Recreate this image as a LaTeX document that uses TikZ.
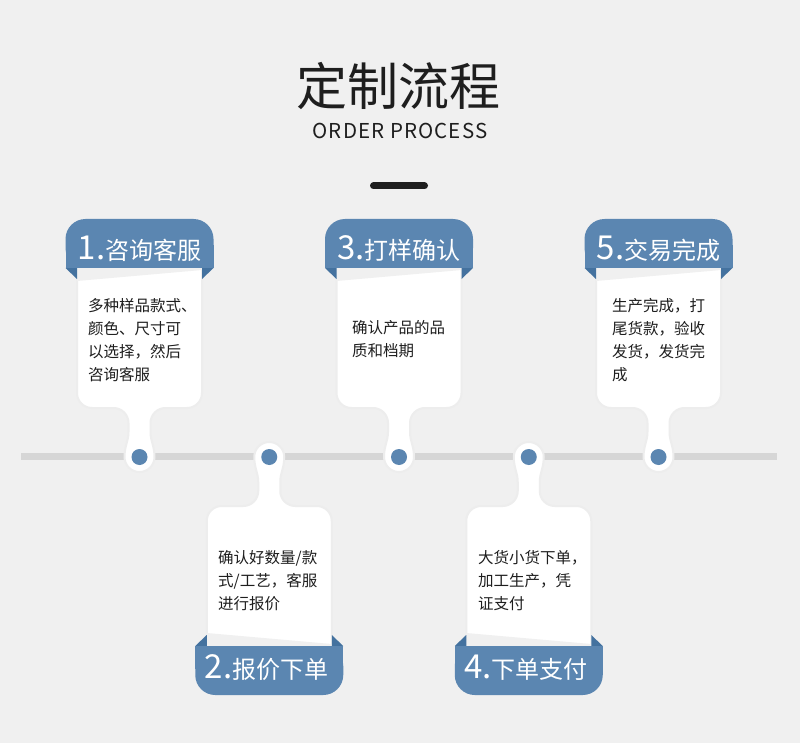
\documentclass[tikz,border=0pt]{standalone}
\usepackage{fontspec}
\setmainfont{Noto Sans CJK SC}
\newfontfamily\subfont[LetterSpace=5.5]{Noto Sans CJK SC}
\definecolor{bg}{HTML}{F0F0F0}
\definecolor{tabblue}{HTML}{5B86B1}
\definecolor{folddark}{HTML}{44729F}
\definecolor{linegray}{HTML}{D6D6D6}
\definecolor{ink}{HTML}{1E1E1E}
\tikzset{
  cardbody/.style={fill=white, draw=black!7, line width=2pt},
  tabfill/.style={fill=tabblue},
  foldfill/.style={fill=folddark},
  dotfill/.style={fill=tabblue},
  wedgefill/.style={fill=black!6},
  bodytext/.style={font=\fontsize{15.5}{23.3}\selectfont, text=ink, align=left, inner sep=0pt, anchor=base west},
  tabtext/.style={text=white, inner sep=0pt, anchor=base},
}
\newcommand\cardoutline[1]{%
  ({#1-62.5},262) -- ({#1+62.5},262) -- ({#1+62.5},393)
  .. controls ({#1+62.5},401.3) and ({#1+55.8},408) .. ({#1+47.5},408)
  -- ({#1+26},408)
  .. controls ({#1+17.7},408) and ({#1+11},414.7) .. ({#1+11},423)
  -- ({#1+11},432)
  .. controls ({#1+11},441) and ({#1+15},446) .. ({#1+15},457)
  .. controls ({#1+15},465.28) and ({#1+8.28},472) .. (#1,472)
  .. controls ({#1-8.28},472) and ({#1-15},465.28) .. ({#1-15},457)
  .. controls ({#1-15},446) and ({#1-11},441) .. ({#1-11},432)
  -- ({#1-11},423)
  .. controls ({#1-11},414.7) and ({#1-17.7},408) .. ({#1-26},408)
  -- ({#1-47.5},408)
  .. controls ({#1-55.8},408) and ({#1-62.5},401.3) .. ({#1-62.5},393)
  -- cycle}
\newcommand\fullcard[1]{%
  \path[cardbody] \cardoutline{#1};
  \fill[wedgefill] ({#1-62.5},268) -- ({#1+62.5},268) -- ({#1+62.5},270) -- ({#1-62.5},281) -- cycle;
  \fill[foldfill] ({#1-74},268) -- ({#1-62.5},268) -- ({#1-62.5},279) -- cycle;
  \fill[foldfill] ({#1+74},268) -- ({#1+62.5},268) -- ({#1+62.5},279) -- cycle;
  \fill[tabfill, rounded corners=20] ({#1-74},219) rectangle ({#1+74},268);
  \fill[tabfill] ({#1-74},245) rectangle ({#1+74},268);
  \fill[dotfill] (#1,457) circle[radius=8];
}
\begin{document}
\begin{tikzpicture}[x=1pt,y=-1pt]
\useasboundingbox (0,0) rectangle (800,743);
\fill[bg] (0,0) rectangle (800,743);
% title
\node[text=ink, inner sep=0pt] (title) at (398,86) {\fontsize{51}{51}\selectfont 定制流程};
\node[text=ink, inner sep=0pt, anchor=base] (sub) at (400,139) {\subfont\fontsize{20.5}{20.5}\selectfont ORDER PROCESS};
\coordinate (barL) at (373.5,186);
\coordinate (barR) at (424.5,186);
\draw[ink, line width=7, line cap=round] (barL) -- (barR);
% timeline
\coordinate (lineL) at (21,456.5);
\coordinate (lineR) at (777,456.5);
\draw[linegray, line width=7] (lineL) -- (lineR);
% top cards
\foreach \c in {139.5,399,658.5}{\fullcard{\c}}
% bottom cards (mirrored)
\begin{scope}[shift={(0,914)}, yscale=-1]
\foreach \c in {269.25,528.75}{\fullcard{\c}}
\end{scope}
% tab labels
\node[tabtext] (t1) at (139.5,259) {\fontsize{33}{33}\selectfont 1.\fontsize{24}{24}\selectfont 咨询客服};
\node[tabtext] (t3) at (399,259) {\fontsize{33}{33}\selectfont 3.\fontsize{24}{24}\selectfont 打样确认};
\node[tabtext] (t5) at (658.5,259) {\fontsize{33}{33}\selectfont 5.\fontsize{24}{24}\selectfont 交易完成};
\node[tabtext] (t2) at (266.5,678) {\fontsize{33}{33}\selectfont 2.\fontsize{24}{24}\selectfont 报价下单};
\node[tabtext] (t4) at (526,678) {\fontsize{33}{33}\selectfont 4.\fontsize{24}{24}\selectfont 下单支付};
% body texts (anchor = baseline of last line)
\node[bodytext] (b1) at (88,380.9) {多种样品款式、\\颜色、尺寸可\\以选择，然后\\咨询客服};
\node[bodytext] (b3) at (352,356.3) {确认产品的品\\质和档期};
\node[bodytext] (b5) at (612,380.9) {生产完成，打\\尾货款，验收\\发货，发货完\\成};
\node[bodytext] (b2) at (218,609.6) {确认好数量/款\\式/工艺，客服\\进行报价};
\node[bodytext] (b4) at (478,609.6) {大货小货下单，\\加工生产，凭\\证支付};
\end{tikzpicture}
\end{document}
